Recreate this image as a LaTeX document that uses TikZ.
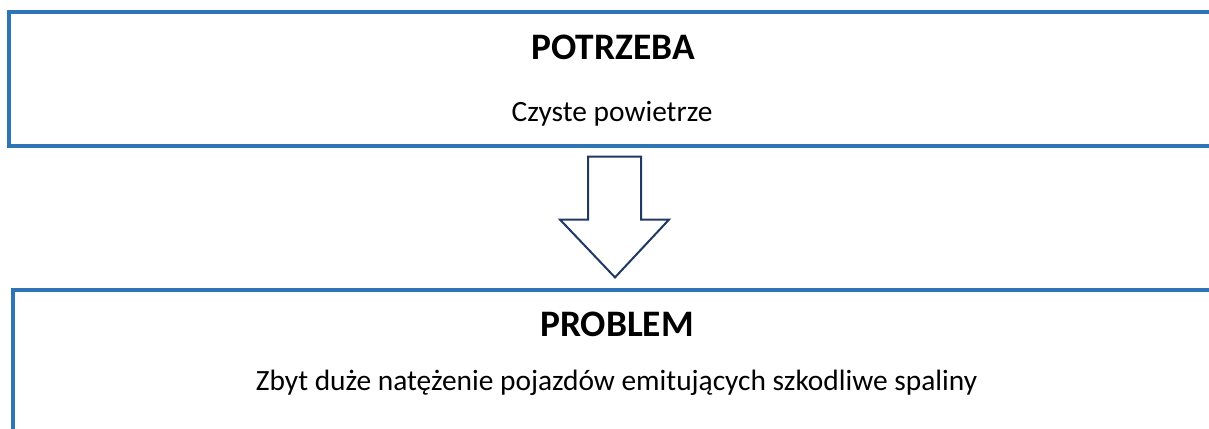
\documentclass[tikz,border=0pt]{standalone}
\usepackage{fontspec}
\setmainfont{Carlito}
\usetikzlibrary{calc}
\definecolor{boxblue}{RGB}{46,117,182}
\definecolor{arrownavy}{RGB}{32,56,100}

\begin{document}
\begin{tikzpicture}[x=0.5pt,y=-0.5pt,
	frame/.style={draw=boxblue, line width=1.6pt, inner sep=0pt},
	headline/.style={anchor=base, font=\fontsize{18.7}{22}\selectfont\bfseries},
	bodyline/.style={anchor=base, font=\fontsize{14.7}{18}\selectfont},
	downarrow/.style={draw=arrownavy, line width=1pt, fill=white, line join=miter}]
			%%%%% START %%%%%
			\useasboundingbox (0,0) rectangle (1209,428);
			\clip (0,0) rectangle (1209,428);
			
			% upper box
			\node[frame, minimum width=610.5pt, minimum height=67pt] (gora) at (619.5,79) {};
			\node[headline] (potrzeba) at (613,59) {POTRZEBA};
			\node[bodyline] (czyste) at (612,121.5) {Czyste powietrze};
			
			% lower box
			\node[frame, minimum width=608.5pt, minimum height=90pt] (dol) at (621.5,380) {};
			\node[headline] (problem) at (617,336.5) {PROBLEM};
			\node[bodyline] (zbyt) at (616.5,390.5) {Zbyt duże natężenie pojazdów emitujących szkodliwe spaliny};
			
			% block arrow between the boxes
			\coordinate (start) at ($(gora.south -| 615,0)+(0,9)$);
			\coordinate (tip) at ($(dol.north -| 615,0)+(0,-11)$);
			\draw[downarrow] ($(start)+(-27,0)$) -- ($(start)+(26,0)$) -- ($(start)+(26,63)$)
				-- ($(start)+(54,63)$) -- (tip) -- ($(start)+(-55,63)$) -- ($(start)+(-27,63)$) -- cycle;
			%%%%% END %%%%%
\end{tikzpicture}
\end{document}
